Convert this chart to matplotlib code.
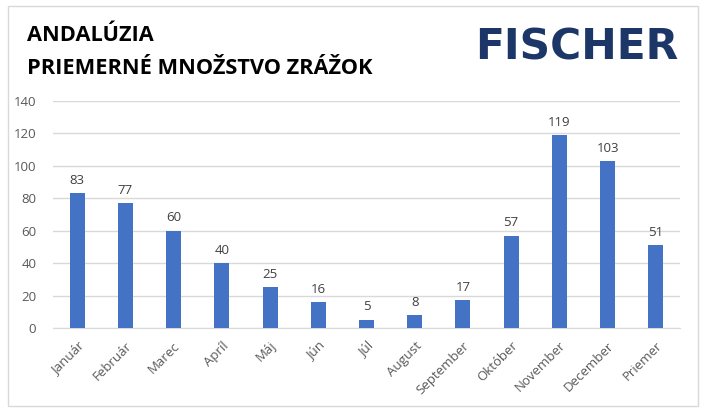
import numpy as np
import matplotlib.pyplot as plt
from matplotlib.patches import Rectangle

# Data
mesiace = ["Január", "Február", "Marec", "Apríl", "Máj", "Jún", "Júl", "August",
           "September", "Október", "November", "December", "Priemer"]
zrazky = [83, 77, 60, 40, 25, 16, 5, 8, 17, 57, 119, 103, 51]
y_ticks = [0, 20, 40, 60, 80, 100, 120, 140]

plt.rcParams["font.family"] = ["Open Sans", "DejaVu Sans"]

fig = plt.figure(figsize=(7.05, 4.11), dpi=100)
fig.patch.set_facecolor("white")

# ramik okolo grafu
fig.patches.append(Rectangle((8 / 705, 1 - 406 / 411), 690 / 705, 400 / 411,
                             transform=fig.transFigure, fill=False,
                             edgecolor="#D9D9D9", linewidth=1))

ax = fig.add_axes([53 / 705, 1 - 328 / 411, 627 / 705, 227 / 411])
x = np.arange(len(mesiace))
bars = ax.bar(x, zrazky, width=0.31, color="#4472C4", zorder=3)

for xi, v in zip(x, zrazky):
    ax.text(xi, v + 4, str(v), ha="center", va="bottom", fontsize=9.5, color="#404040")

ax.set_xlim(-0.5, len(mesiace) - 0.5)
ax.set_ylim(0, 140)
ax.set_yticks(y_ticks)
ax.set_xticks(x)
ax.set_xticklabels(mesiace, rotation=45, ha="right", rotation_mode="anchor")
ax.tick_params(axis="both", length=0, labelsize=9.5, labelcolor="#595959")
ax.tick_params(axis="y", pad=12)
ax.tick_params(axis="x", pad=8)
ax.grid(axis="y", color="#D9D9D9", linewidth=1, zorder=0)
for s in ["top", "right", "left"]:
    ax.spines[s].set_visible(False)
ax.spines["bottom"].set_color("#D9D9D9")

# Nadpis
fig.text(27 / 705, 1 - 41 / 411, "ANDALÚZIA", fontsize=15.7, fontweight="bold", color="black")
fig.text(27 / 705, 1 - 74 / 411, "PRIEMERNÉ MNOŽSTVO ZRÁŽOK", fontsize=15.7,
         fontweight="bold", color="black")

# Logo
fig.text(475 / 705, 1 - 60 / 411, "FISCHER", fontsize=30.5, fontweight="bold",
         family="DejaVu Sans", color="#1C3668")

plt.savefig("out.png", dpi=100)
